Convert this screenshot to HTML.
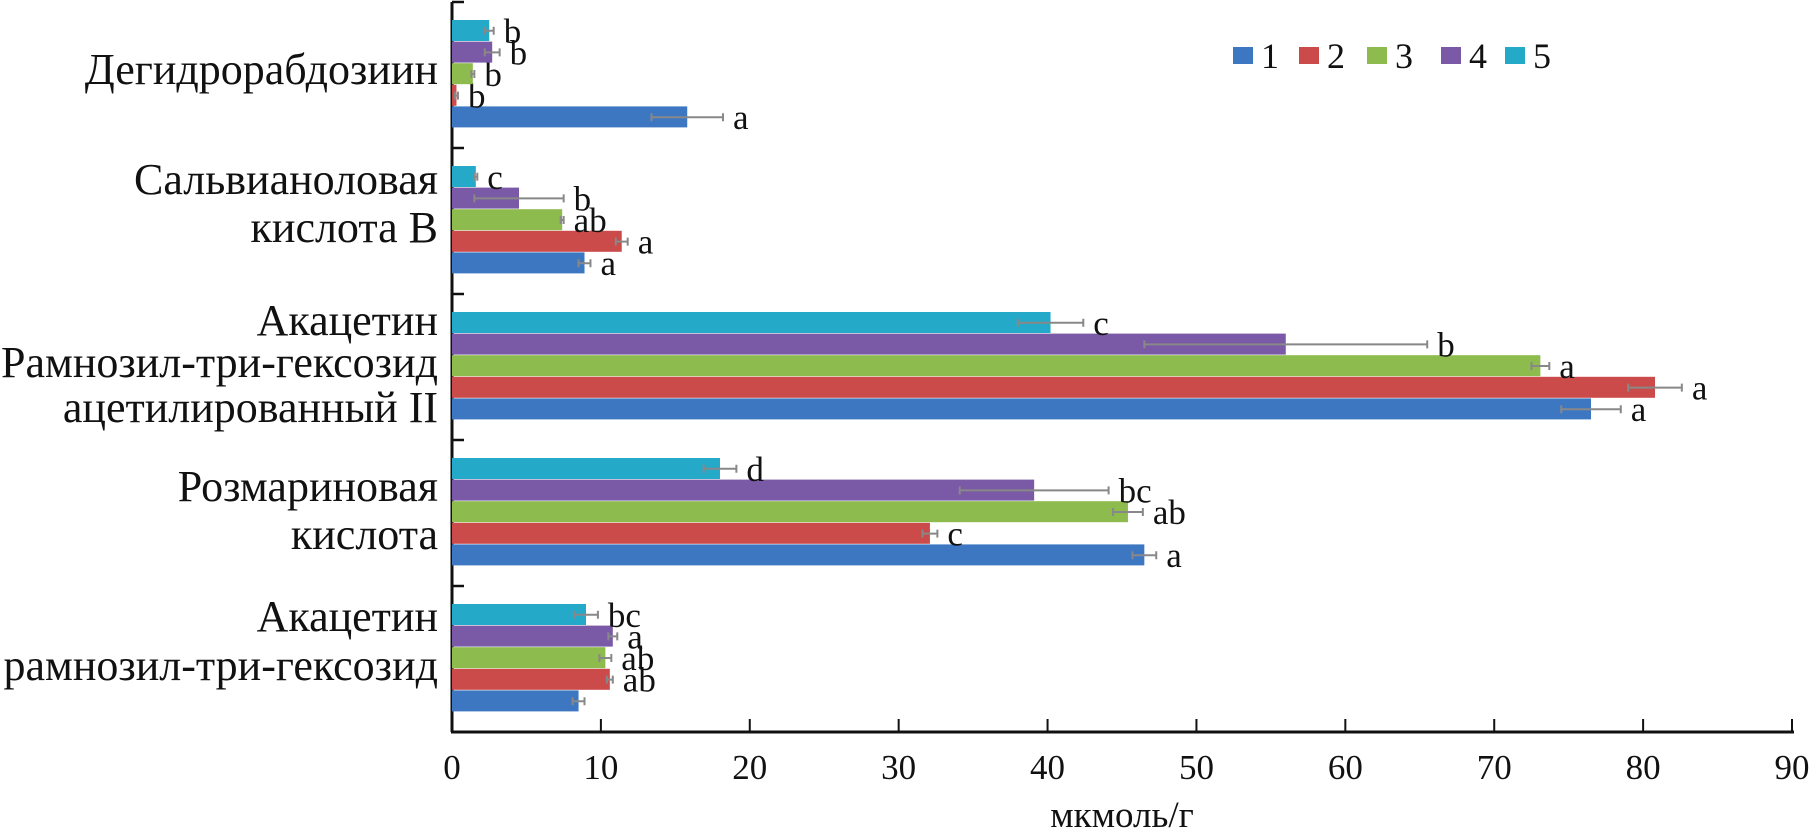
<!DOCTYPE html>
<html><head><meta charset="utf-8"><style>
html,body{margin:0;padding:0;background:#fff;}
svg{display:block;font-family:"Liberation Serif",serif;}
</style></head><body>
<svg id="chart" width="1818" height="836" viewBox="0 0 1818 836" xmlns="http://www.w3.org/2000/svg"></svg>
<script>
const categories = [
  ["Дегидрорабдозиин"],
  ["Сальвианоловая","кислота В"],
  ["Акацетин","Рамнозил-три-гексозид","ацетилированный II"],
  ["Розмариновая","кислота"],
  ["Акацетин","рамнозил-три-гексозид"]
];
const seriesNames = ["1","2","3","4","5"];
const s1 = [15.8, 8.9, 76.5, 46.5, 8.5];
const s2 = [0.3, 11.4, 80.8, 32.1, 10.6];
const s3 = [1.4, 7.4, 73.1, 45.4, 10.3];
const s4 = [2.7, 4.5, 56.0, 39.1, 10.8];
const s5 = [2.5, 1.6, 40.2, 18.0, 9.0];
const e1 = [2.4, 0.4, 2.0, 0.8, 0.4];
const e2 = [0.1, 0.4, 1.8, 0.5, 0.2];
const e3 = [0.1, 0.1, 0.6, 1.0, 0.4];
const e4 = [0.5, 3.0, 9.5, 5.0, 0.3];
const e5 = [0.3, 0.1, 2.2, 1.1, 0.8];
const l1 = ["a","a","a","a",""];
const l2 = ["b","a","a","c","ab"];
const l3 = ["b","ab","a","ab","ab"];
const l4 = ["b","b","b","bc","a"];
const l5 = ["b","c","c","d","bc"];
const xTicks = [0,10,20,30,40,50,60,70,80,90];

const colors = ["#3d77c2","#cb4a4a","#8dbb4e","#7a59a6","#24a9c9"];
const series=[s1,s2,s3,s4,s5], errs=[e1,e2,e3,e4,e5], lets=[l1,l2,l3,l4,l5];
const NS="http://www.w3.org/2000/svg";
const svg=document.getElementById('chart');
const X0=452, X1=1792, XMAX=90, Y0=2, Y1=732;
const xs=v=>X0+(v/XMAX)*(X1-X0);
const band=(Y1-Y0)/categories.length;
function mk(tag,attrs,parent){const e=document.createElementNS(NS,tag);for(const k in attrs)e.setAttribute(k,attrs[k]);(parent||svg).appendChild(e);return e;}

let g=mk('g',{});


let ya=mk('line',{x1:X0,y1:Y0,x2:X0,y2:Y1,stroke:'#111','stroke-width':3},g);


let xa=mk('line',{x1:X0-1,y1:Y1,x2:X1+2,y2:Y1,stroke:'#111','stroke-width':3},g);


for(let i=0;i<=categories.length;i++){
  const y=Y0+i*band;
  let t=mk('line',{x1:X0,y1:y,x2:X0+12,y2:y,stroke:'#111','stroke-width':2.5},g);
  
  
}
xTicks.forEach(v=>{
  const x=xs(v);
  let t=mk('line',{x1:x,y1:Y1-13,x2:x,y2:Y1,stroke:'#111','stroke-width':2},g);
  
  
  let tx=mk('text',{x:x,y:Y1+47,'font-size':35,'text-anchor':'middle',fill:'#111'},g);
  tx.textContent=v;
  
  
});
let xt=mk('text',{x:(X0+X1)/2,y:827,'font-size':37,'text-anchor':'middle',fill:'#111'});
xt.textContent='мкмоль/г';



const lineY=[[70],[180,228],[321,363,408],[487,535],[617,666]];
categories.forEach((lines,i)=>{
  lines.forEach((s,j)=>{
    let t=mk('text',{x:438,y:lineY[i][j]+14,'font-size':44,'text-anchor':'end',fill:'#111'});
    t.textContent=s;
    
    
  });
});

const bh=21.6, padTop=18;
categories.forEach((c,i)=>{
  for(let k=0;k<5;k++){
    const row=4-k;
    const y=Y0+i*band+padTop+row*bh;
    const v=series[k][i], e=errs[k][i];
    let r=mk('rect',{x:X0,y:y,width:xs(v)-X0,height:bh-0.6,fill:colors[k]});
    
    
    const cy=y+bh/2, xl=xs(Math.max(0,v-e)), xr=xs(v+e);
    let eb=mk('path',{d:`M${xl},${cy}H${xr}M${xl},${cy-4}V${cy+4}M${xr},${cy-4}V${cy+4}`,stroke:'#888','stroke-width':2,fill:'none'});
    
    
    const lt=lets[k][i];
    if(lt){
      let t=mk('text',{x:Math.max(xr,xs(v))+10,y:cy+12,'font-size':35,fill:'#111'});
      t.textContent=lt;
      
      
    }
  }
});

const legX=[1233,1299,1367,1441,1505];
seriesNames.forEach((n,k)=>{
  let lg=mk('g',{});
  
  
  mk('rect',{x:legX[k],y:47,width:20,height:17,fill:colors[k]},lg);
  let t=mk('text',{x:legX[k]+28,y:68,'font-size':36,fill:'#111'},lg);
  t.textContent=n;
});
</script>
</body></html>
